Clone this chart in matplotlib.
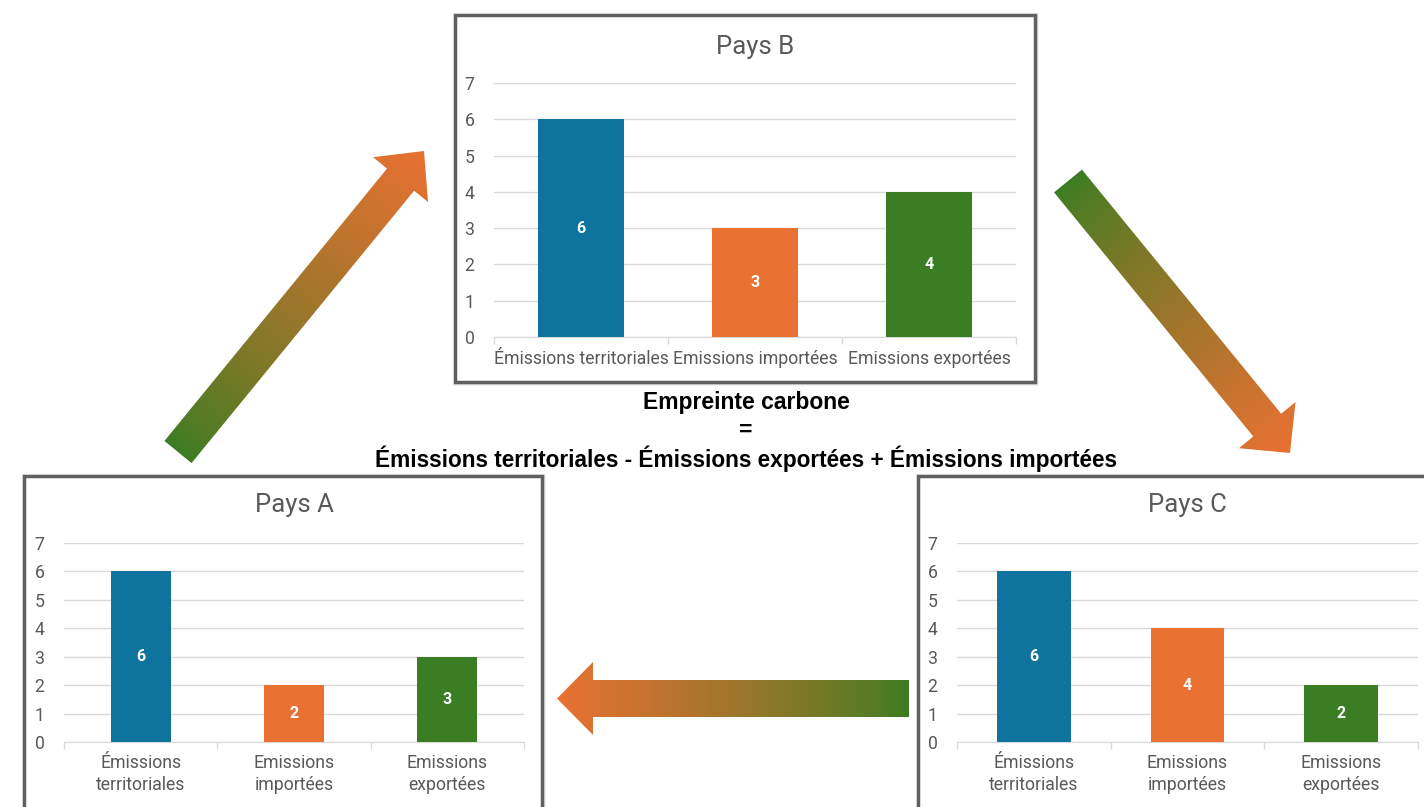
import numpy as np
import matplotlib
matplotlib.use("Agg")
import matplotlib.pyplot as plt
from matplotlib.patches import Polygon, Rectangle

# data
categories_one_line = ["Émissions territoriales", "Emissions importées", "Emissions exportées"]
categories_two_lines = ["Émissions\nterritoriales", "Emissions\nimportées", "Emissions\nexportées"]
pays_a = [6, 2, 3]
pays_b = [6, 3, 4]
pays_c = [6, 4, 2]
y_ticks = [0, 1, 2, 3, 4, 5, 6, 7]

BLUE = "#0E749D"
ORANGE = "#E97132"
GREEN = "#3A7D22"
bar_colors = [BLUE, ORANGE, GREEN]
GREY_TXT = "#595959"
GRID = "#D9D9D9"

W, H = 1424, 807
fig = plt.figure(figsize=(W / 100, H / 100), dpi=100)
fig.patch.set_facecolor("white")

# background axes in pixel coordinates for frames, arrows, text
bg = fig.add_axes([0, 0, 1, 1])
bg.set_xlim(0, W)
bg.set_ylim(H, 0)
bg.axis("off")


def frame(x0, y0, x1, y1):
    # soft shadow
    for k, a in [(6, 0.10), (4, 0.15), (2, 0.25)]:
        bg.add_patch(Rectangle((x0 - k / 2 + 1, y0 - k / 2 + 1), x1 - x0 + k, y1 - y0 + k,
                               facecolor="#808080", edgecolor="none", alpha=a, zorder=1))
    bg.add_patch(Rectangle((x0, y0), x1 - x0, y1 - y0, facecolor="white",
                           edgecolor="#606060", lw=2.5, zorder=2))


frame(455, 15, 1035, 382)
frame(24, 476, 542, 830)
frame(918, 476, 1450, 830)


def grad_arrow(tail, tip, w, hw, hl):
    tail = np.array(tail, float)
    tip = np.array(tip, float)
    d = tip - tail
    L = np.hypot(*d)
    u = d / L
    n = np.array([-u[1], u[0]])
    base = tip - u * hl
    pts = [tail + n * w / 2, base + n * w / 2, base + n * hw / 2, tip,
           base - n * hw / 2, base - n * w / 2, tail - n * w / 2]
    poly = Polygon(pts, closed=True, facecolor="none", edgecolor="none")
    bg.add_patch(poly)
    pts = np.array(pts)
    xmin, ymin = pts.min(axis=0) - 2
    xmax, ymax = pts.max(axis=0) + 2
    xs = np.linspace(xmin, xmax, 300)
    ys = np.linspace(ymin, ymax, 300)
    X, Y = np.meshgrid(xs, ys)
    t = ((X - tail[0]) * d[0] + (Y - tail[1]) * d[1]) / (L * L)
    t = np.clip(t, 0, 1) ** 0.8
    t = t[..., None]
    g = np.array(matplotlib.colors.to_rgb(GREEN))
    o = np.array(matplotlib.colors.to_rgb(ORANGE))
    img = g * (1 - t) + o * t
    im = bg.imshow(img, extent=(xmin, xmax, ymax, ymin), origin="upper",
                   interpolation="bilinear", zorder=3, aspect="auto")
    im.set_clip_path(poly)


grad_arrow((178, 452), (424, 151), 35, 71, 37)
grad_arrow((1068, 181), (1290, 453), 36, 73, 36)
grad_arrow((909, 698.5), (557, 698.5), 37, 73, 36)
bg.set_xlim(0, W)
bg.set_ylim(H, 0)

bg.text(746, 403, "Empreinte carbone", ha="center", va="center", fontsize=16.5,
        fontweight="bold", family="Liberation Sans", color="black", zorder=5)
bg.text(746, 430, "=", ha="center", va="center", fontsize=16.5,
        fontweight="bold", family="Liberation Sans", color="black", zorder=5)
bg.text(746, 459, "Émissions territoriales - Émissions exportées + Émissions importées",
        ha="center", va="center", fontsize=16.3, fontweight="bold",
        family="Liberation Sans", color="black", zorder=5)


def chart(px0, px1, py_top, py_bot, values, labels, title, bar_w, title_y):
    ax = fig.add_axes([px0 / W, (H - py_bot) / H, (px1 - px0) / W, (py_bot - py_top) / H])
    ax.set_facecolor("none")
    x = np.arange(len(values))
    bars = ax.bar(x, values, width=bar_w, color=bar_colors, zorder=3)
    for b, v in zip(bars, values):
        ax.text(b.get_x() + b.get_width() / 2, v / 2, str(v), ha="center", va="center",
                color="white", fontsize=11.5, fontweight="bold", family="Roboto", zorder=4)
    ax.set_xlim(-0.5, len(values) - 0.5)
    ax.set_ylim(0, 7)
    ax.set_yticks(y_ticks)
    ax.set_xticks(x)
    ax.set_xticklabels(labels, family="Roboto", fontsize=12.7, color=GREY_TXT,
                       linespacing=1.25)
    ax.set_xticks(np.arange(-0.5, len(values), 1.0), minor=True)
    ax.tick_params(axis="x", which="major", length=0, pad=9)
    ax.tick_params(axis="x", which="minor", length=5, color=GRID, width=1)
    ax.tick_params(axis="y", length=0, labelsize=12.7, labelcolor=GREY_TXT, pad=14)
    for lab in ax.get_yticklabels():
        lab.set_family("Roboto")
    ax.grid(axis="y", color=GRID, lw=1, zorder=0)
    for s in ["top", "right", "left"]:
        ax.spines[s].set_visible(False)
    ax.spines["bottom"].set_color(GRID)
    ax.spines["bottom"].set_zorder(2)
    fig.text((px0 + px1) / 2 / W, 1 - title_y / H, title, ha="center", va="center",
             fontsize=18.5, family="Roboto", color=GREY_TXT)
    return ax


chart(494, 1016, 83, 337, pays_b, categories_one_line, "Pays B", 0.49, 47)
chart(64, 524, 543, 742, pays_a, categories_two_lines, "Pays A", 0.39, 505)
chart(957, 1418, 543, 742, pays_c, categories_two_lines, "Pays C", 0.48, 505)

fig.savefig("out.png", dpi=100)
